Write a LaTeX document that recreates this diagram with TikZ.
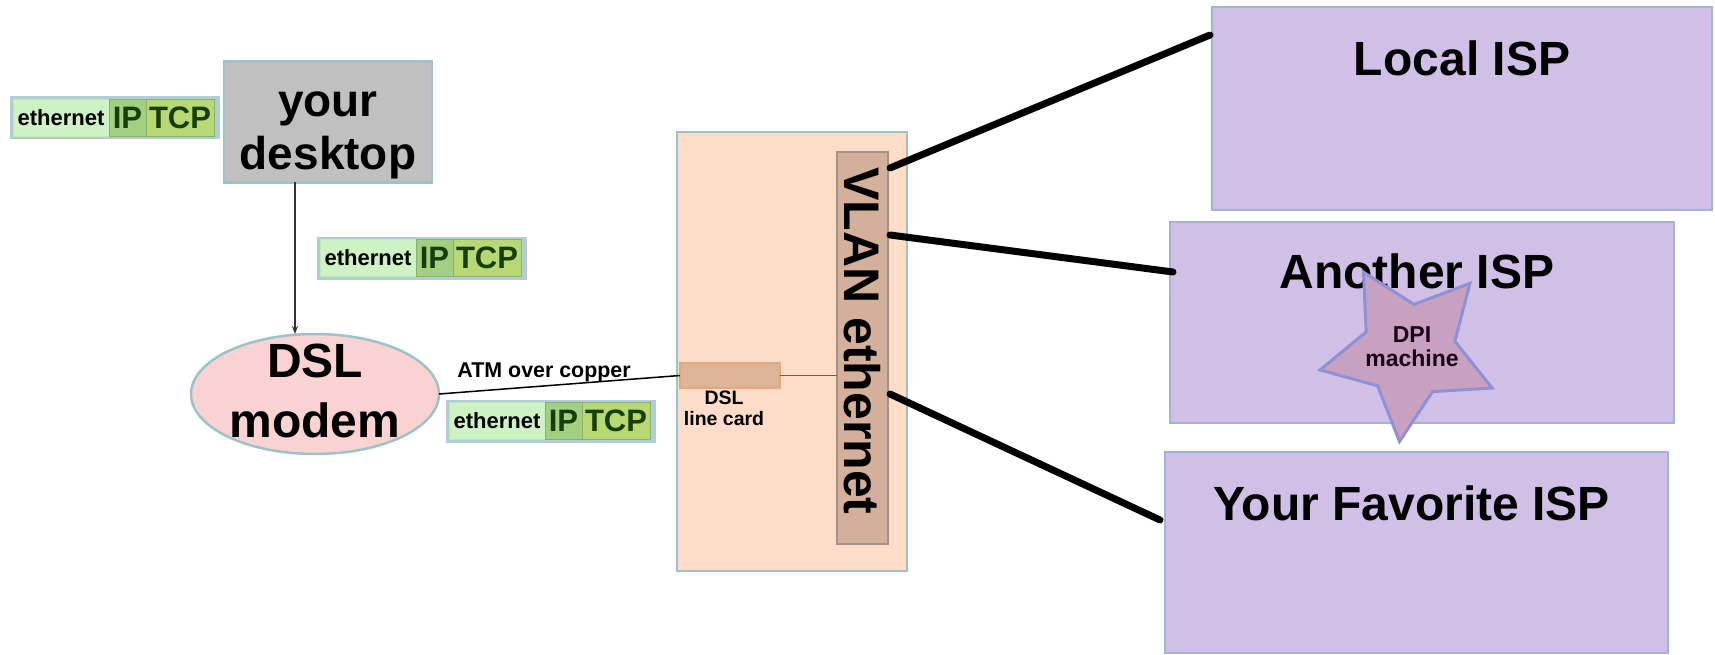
\documentclass[tikz,border=0pt]{standalone}
\usepackage{fontspec}
\setmainfont{Liberation Sans}
\usetikzlibrary{positioning,shapes.geometric,calc,arrows.meta}

\definecolor{deskgray}{HTML}{C0C0C0}
\definecolor{edgeblue}{HTML}{9EC2CA}
\definecolor{ethgreen}{HTML}{CFF2C4}
\definecolor{ipgreen}{HTML}{A0D080}
\definecolor{tcpgreen}{HTML}{B8D874}
\definecolor{stacktext}{HTML}{163E0C}
\definecolor{modempink}{HTML}{F9D2D2}
\definecolor{dslampeach}{HTML}{FDDDC8}
\definecolor{cardtan}{HTML}{DDB498}
\definecolor{vlantan}{HTML}{D4B09A}
\definecolor{isplilac}{HTML}{D0C0E8}
\definecolor{ispedge}{HTML}{A2B2D8}
\definecolor{starmauve}{HTML}{C8A0C0}
\definecolor{staredge}{HTML}{8E92D4}

\begin{document}
\begin{tikzpicture}[x=1pt, y=-1pt, every node/.style={inner sep=0pt, outer sep=0pt, font=\bfseries},
  stackbox/.style={minimum width=210, minimum height=43, fill=edgeblue!80},
  ethbox/.style={minimum width=96, minimum height=37, fill=ethgreen, draw=ethgreen!70!ipgreen, line width=1,
    font=\bfseries\fontsize{22}{22}\selectfont},
  ipbox/.style={minimum width=37, minimum height=37, fill=ipgreen, draw=ipgreen!80!black!90, line width=1,
    text=stacktext, font=\bfseries\fontsize{31}{31}\selectfont},
  tcpbox/.style={ipbox, minimum width=68, fill=tcpgreen},
  bigtext/.style={align=center, font=\bfseries\fontsize{48}{60}\selectfont},
  ispbox/.style={minimum width=502, minimum height=201, fill=isplilac, draw=ispedge, line width=2.5},
  isplink/.style={line width=7, line cap=round}]

  \useasboundingbox (0,0) rectangle (1715,655);

  % Desktop and modem
  \node[minimum width=208, minimum height=121, fill=deskgray, draw=edgeblue, line width=2.5] (desk) at (328,122) {};
  \node[bigtext, font=\bfseries\fontsize{46}{53}\selectfont] (desktxt) at ([yshift=-13]desk.center) {your\\desktop};
  \node[ellipse, minimum width=248, minimum height=120, fill=modempink,
    draw=edgeblue, line width=2.5] (modem) at (315,394) {};
  \node[bigtext] (modemtxt) at ([yshift=3]modem.center) {DSL\\modem};

  % Protocol stacks
  \foreach \i/\x/\y in {1/10/118, 2/317/258, 3/446/421} {
    \node[stackbox, anchor=west] (stack\i) at (\x,\y) {};
    \node[ethbox, anchor=west] (eth\i) at ([xshift=3]stack\i.west) {ethernet};
    \node[ipbox, right=0pt of eth\i] (ip\i) {IP};
    \node[tcpbox, right=0pt of ip\i] (tcp\i) {TCP};
  }

  % DSLAM with line card and VLAN bar
  \node[minimum width=230, minimum height=439, fill=dslampeach, draw=edgeblue, line width=2.5] (dslam) at (792,351.5) {};
  \node[minimum width=100, minimum height=25, fill=cardtan, draw=cardtan!80!orange, line width=2.5] (card) at (730,375.5) {};
  \node[align=center, font=\bfseries\fontsize{19.5}{21}\selectfont, below=3pt of card, xshift=-6] (cardtxt) {DSL\\line card};
  \node[minimum width=51, minimum height=392, fill=vlantan, draw=gray!60!vlantan, line width=2.5] (vlan) at (862.5,348) {};
  \node[rotate=-90, font=\bfseries\fontsize{50}{50}\selectfont] (vlantxt) at ([yshift=7]vlan.center) {VLAN ethernet};

  % Wires
  \draw[-{Stealth[length=8,width=6]}, line width=1.5, draw=black!80] ([xshift=-33]desk.south) -- ([xshift=-20]modem.north);
  \draw[line width=1.5] (modem.east) -- node[above=4pt, pos=0.436, font=\bfseries\fontsize{21.4}{21.4}\selectfont] (atm) {ATM over copper} (card.west);
  \draw[line width=1.5, draw=black!60!red!70] (card.east) -- (card.east -| vlan.west);

  % ISPs
  \node[ispbox, minimum width=500, minimum height=203] (local) at (1462,108.5) {};
  \node[ispbox, minimum width=504] (another) at (1422,322.5) {};
  \node[ispbox, minimum width=503] (favorite) at (1416.5,552.5) {};
  \node[font=\bfseries\fontsize{48}{48}\selectfont, below=34pt of local.north] (localtxt) {Local ISP};
  \node[font=\bfseries\fontsize{48}{48}\selectfont, below=32pt of another.north, xshift=-5] (anothertxt) {Another ISP};
  \node[font=\bfseries\fontsize{48}{48}\selectfont, below=34pt of favorite.north, xshift=-5] (favoritetxt) {Your Favorite ISP};

  \draw[isplink] ($(vlan.north east)+(2,16)$) -- ($(local.north west)+(-2,28)$);
  \draw[isplink] ($(vlan.north east)+(2,83)$) -- ($(another.north west)+(3,50)$);
  \draw[isplink] ($(vlan.north east)+(2,242)$) -- ($(favorite.north west)+(-5,68)$);

  % DPI star
  \node[star, star points=5, star point ratio=1.94, minimum size=182, shape border rotate=-42,
    fill=starmauve, draw=staredge, line width=3] (dpi) at (1409,351) {};
  \node[align=center, text=black!80!violet, font=\bfseries\fontsize{23}{24}\selectfont] (dpitxt)
    at ([xshift=3, yshift=4]dpi.center) {DPI\\machine};
\end{tikzpicture}
\end{document}
